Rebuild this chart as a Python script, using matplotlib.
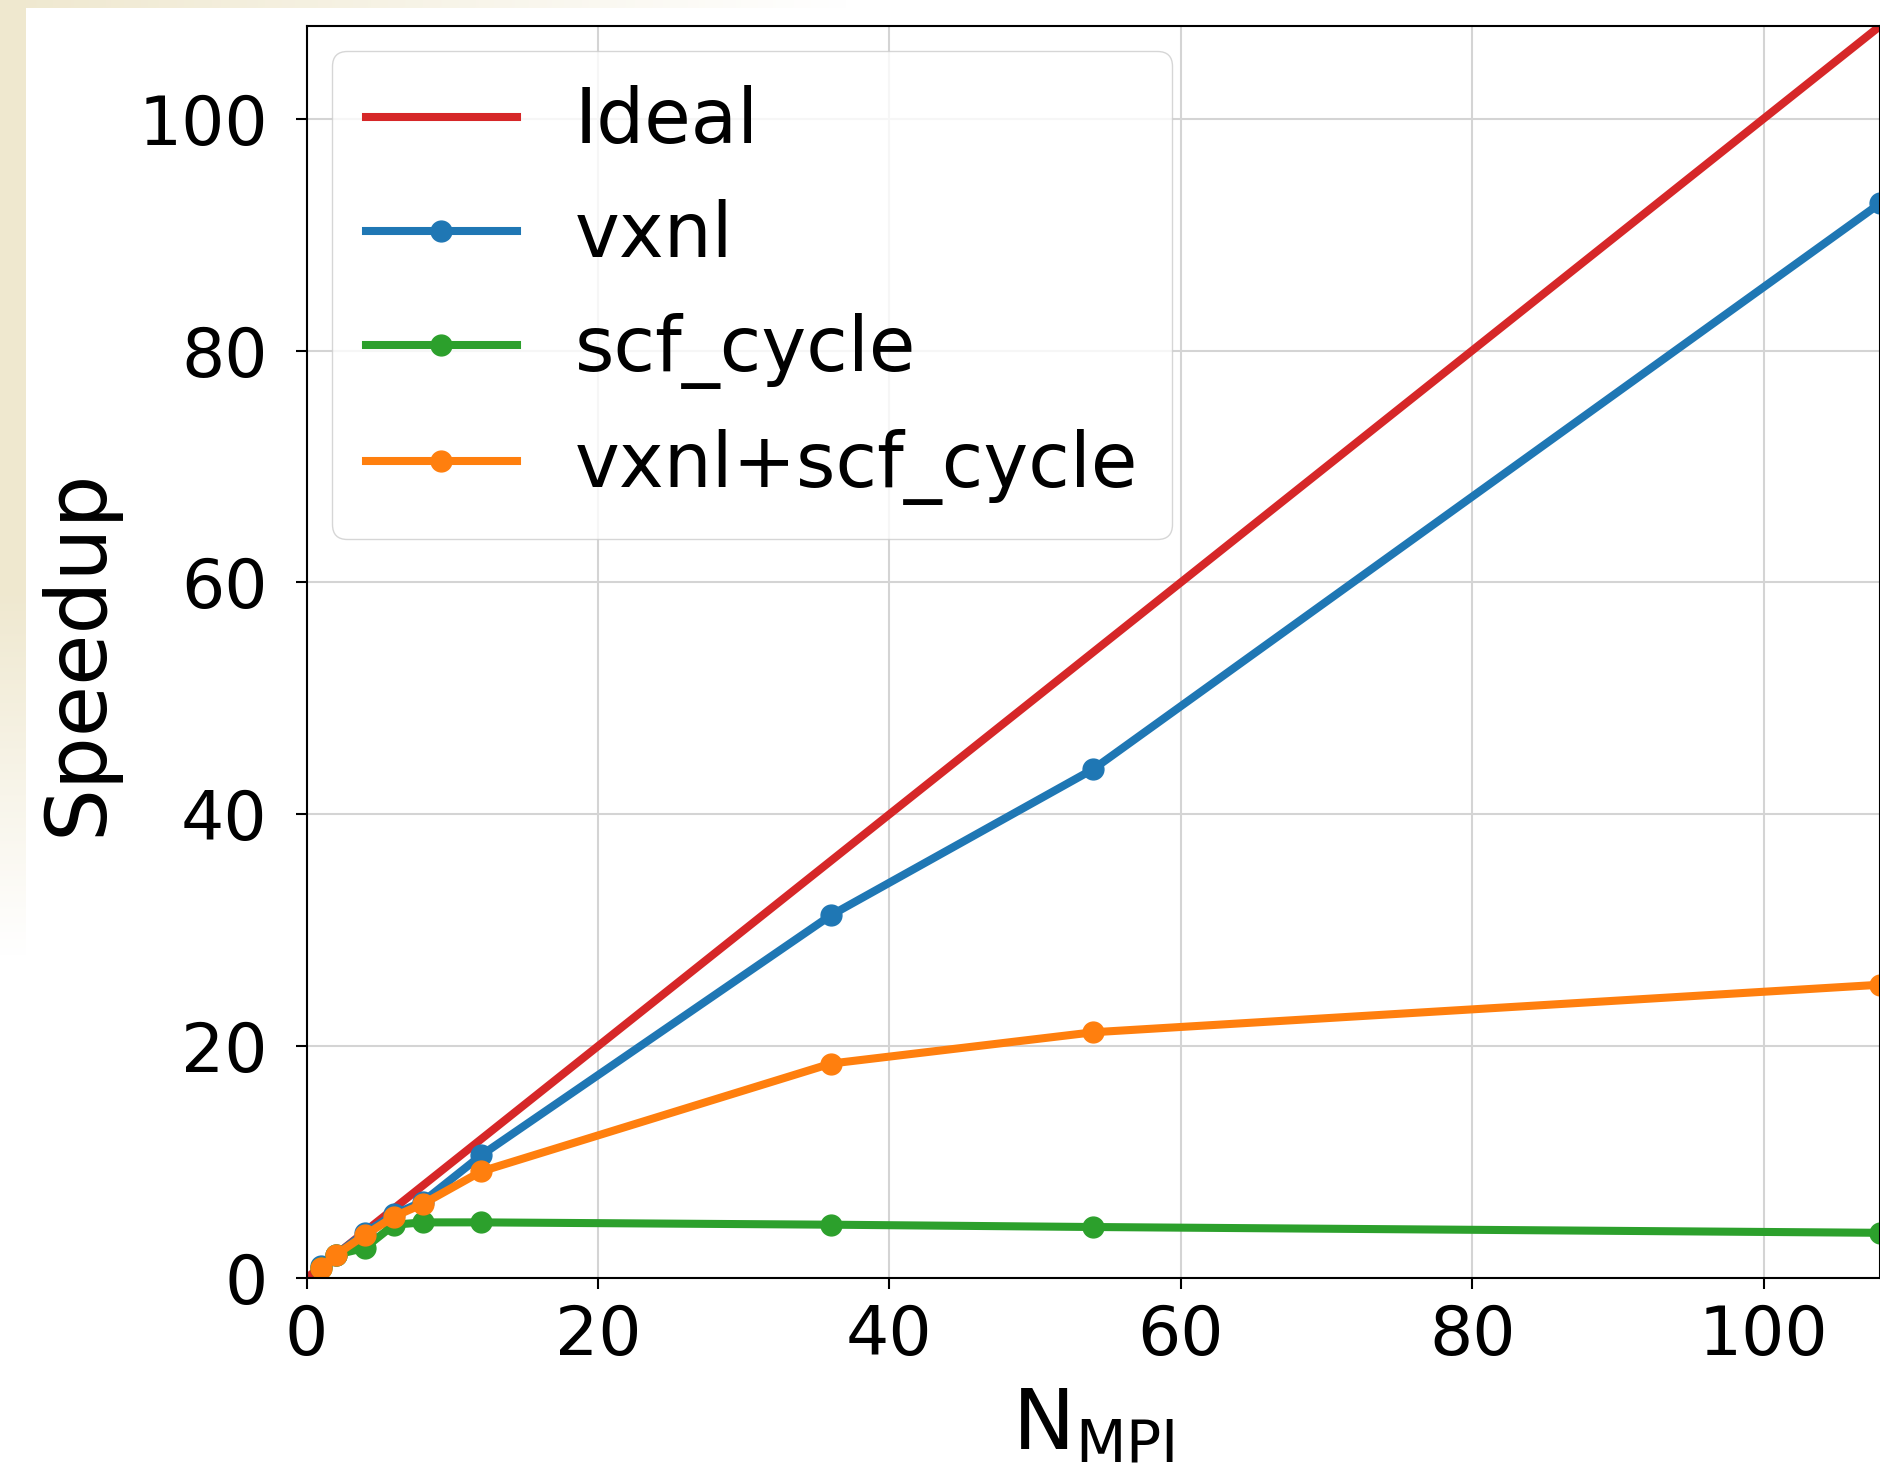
import numpy as np
import matplotlib.pyplot as plt

# number of MPI ranks and measured speedups
n_mpi = [1, 2, 4, 6, 8, 12, 36, 54, 108]
ideal_n = [0, 1, 2, 4, 6, 8, 12, 36, 54, 108]
ideal = [0, 1, 2, 4, 6, 8, 12, 36, 54, 108]
vxnl = [1.0, 2.0, 3.9, 5.5, 6.6, 10.6, 31.3, 43.9, 92.7]
scf_cycle = [0.9, 2.0, 2.6, 4.6, 4.8, 4.8, 4.6, 4.4, 3.9]
vxnl_scf = [0.9, 2.0, 3.7, 5.3, 6.4, 9.2, 18.5, 21.2, 25.3]

W, H = 1881, 1470
fig = plt.figure(figsize=(W / 100, H / 100), dpi=100)

# slide background peeking out at the top and left edges
bg = np.ones((H, W, 3))
beige = np.array([239, 232, 207]) / 255.
top_h, left_w = 8, 26
xs = np.linspace(0, 1, W)
fade_top = np.clip(1 - xs / 0.45, 0, 1)[None, :, None]
bg[:top_h] = bg[:top_h] * (1 - fade_top) + beige * fade_top
ys = np.linspace(0, 1, H)
fade_left = np.clip(1 - (ys - 0.4) / 0.25, 0, 1)[:, None, None]
bg[:, :left_w] = bg[:, :left_w] * (1 - fade_left) + beige * fade_left
bax = fig.add_axes([0, 0, 1, 1], zorder=-10)
bax.imshow(bg, aspect='auto', interpolation='bilinear')
bax.axis('off')

ax = fig.add_axes([0.163, 0.1306, 0.8365, 0.8517])
lw = 5.8
ms = 15
ax.plot(ideal_n, ideal, color='#d62728', lw=lw, label='Ideal')
ax.plot(n_mpi, vxnl, color='#1f77b4', lw=lw, marker='o', ms=ms, label='vxnl')
ax.plot(n_mpi, scf_cycle, color='#2ca02c', lw=lw, marker='o', ms=ms, label='scf_cycle')
ax.plot(n_mpi, vxnl_scf, color='#ff7f0e', lw=lw, marker='o', ms=ms, label='vxnl+scf_cycle')

ax.set_xlim(0, 108)
ax.set_ylim(0, 108)
ax.set_xticks([0, 20, 40, 60, 80, 100])
ax.set_yticks([0, 20, 40, 60, 80, 100])
ax.grid(True, color='#d4d4d4', lw=1.5)
ax.set_axisbelow(True)
ax.tick_params(labelsize=49, length=8, width=1.5, pad=10)
ax.tick_params(axis='y', pad=20)
for sp in ax.spines.values():
    sp.set_linewidth(1.5)

ax.set_xlabel(r'$\mathregular{N_{MPI}}$', fontsize=60, labelpad=12)
ax.set_ylabel('Speedup', fontsize=60, labelpad=14)

ax.legend(loc='upper left', fontsize=54.5, handlelength=2.0,
          borderpad=0.45, labelspacing=0.53, handletextpad=0.76,
          borderaxespad=0.33)

fig.savefig('out.png', dpi=100)
